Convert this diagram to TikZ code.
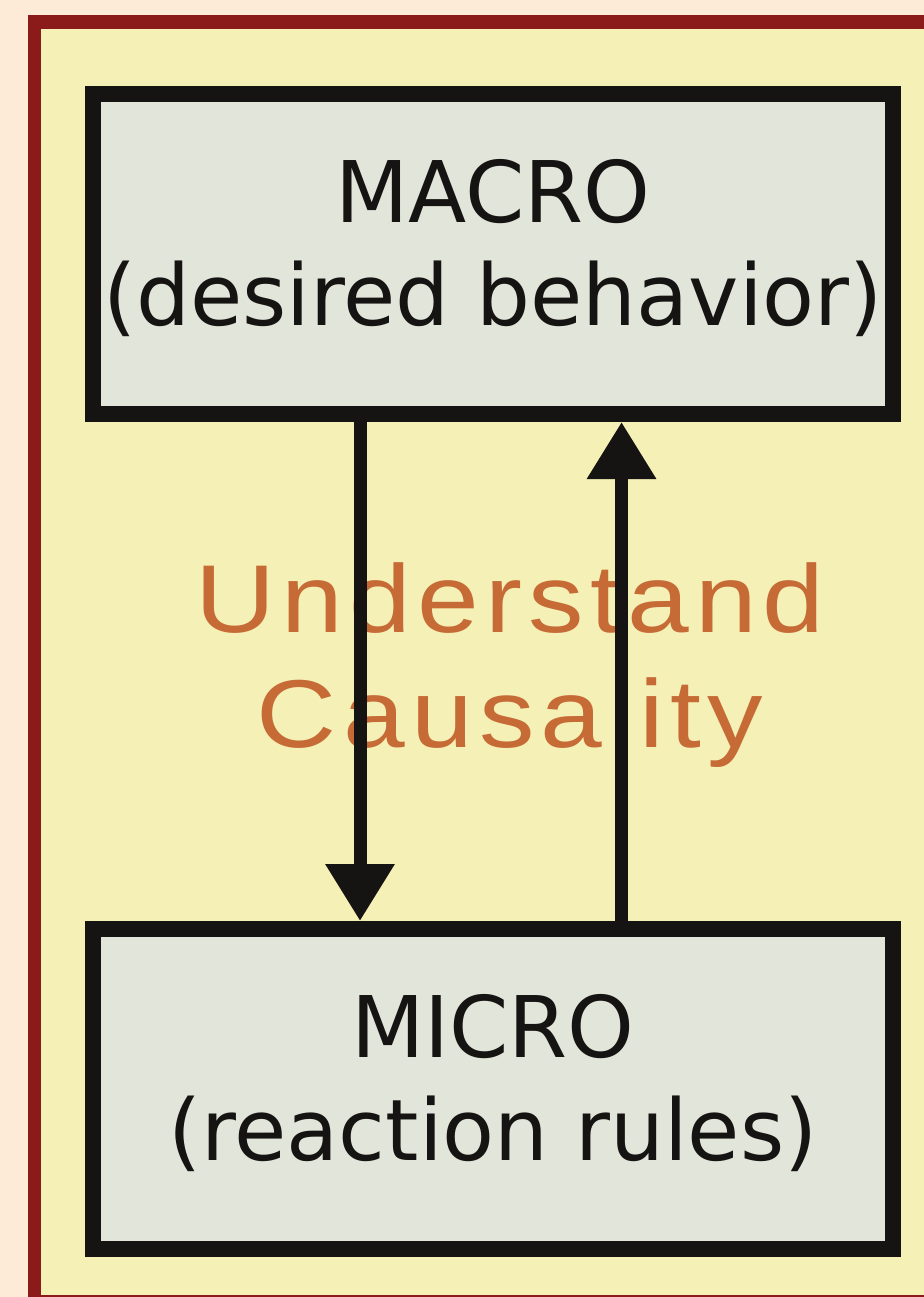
\documentclass[tikz,border=0pt]{standalone}
\usepackage{fontspec}
\setmainfont{DejaVu Sans}
\newfontfamily\causefont[FakeStretch=1.15,LetterSpace=6.5]{Liberation Sans}
\usetikzlibrary{arrows.meta,positioning,calc}
\definecolor{peach}{HTML}{FDEBD8}
\definecolor{framered}{HTML}{8B1A1A}
\definecolor{paneyellow}{HTML}{F5F0B6}
\definecolor{boxgrey}{HTML}{E2E5DA}
\definecolor{inkblack}{HTML}{151412}
\definecolor{causeorange}{HTML}{C66A36}

\begin{document}
\begin{tikzpicture}[x=0.75pt,y=-0.75pt,
  level/.style={draw=inkblack,fill=boxgrey,line width=12pt,minimum width=600pt,minimum height=240pt,inner sep=0pt,text depth=17.4pt,align=center,text=inkblack,font=\fontsize{63.75pt}{77.25pt}\selectfont},
  arr/.style={-{Triangle[length=42.75pt,width=49.5pt]},line width=9.75pt,inkblack},
  lab/.style={align=center,text=causeorange,font=\causefont\fontsize{72.3pt}{86.25pt}\selectfont}]
\useasboundingbox (0,0) rectangle (924,1297);
\clip (0,0) rectangle (924,1297);
\fill[peach] (0,0) rectangle (924,1297);
\draw[framered,fill=paneyellow,line width=10pt] (34.5,22) rectangle (960,1302);
\node[level] (macro) at (493,254) {MACRO\\(desired behavior)};
\node[level,below=374.25pt of macro] (micro) {MICRO\\(reaction rules)};
\node[lab] (cause) at (510,665) {Understand\\Causality};
\draw[arr] ([xshift=-99.75pt]macro.south) -- ([xshift=-99.75pt]micro.north);
\draw[arr] ([xshift=96.4pt]micro.north) -- ([xshift=96.4pt]macro.south);
\end{tikzpicture}
\end{document}
